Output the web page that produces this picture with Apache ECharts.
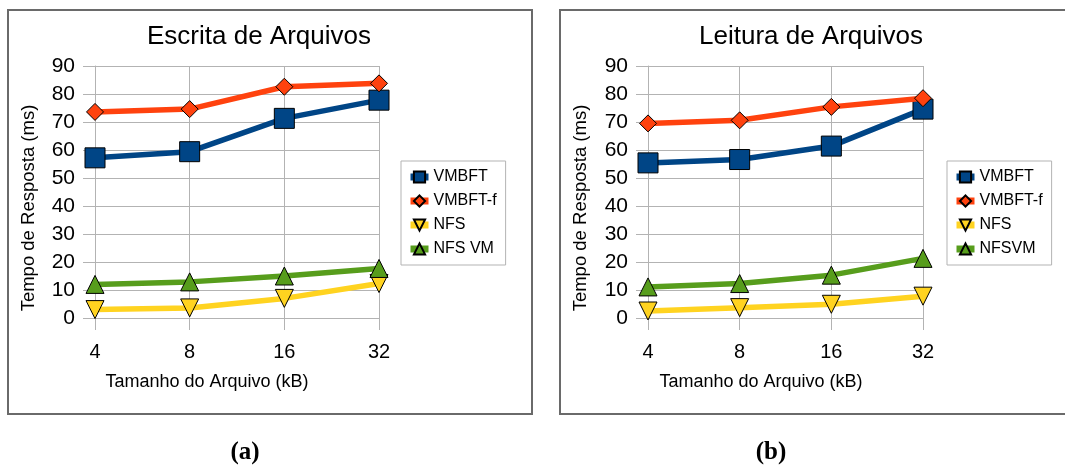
<!DOCTYPE html>
<html><head><meta charset="utf-8">
<script src="https://cdn.jsdelivr.net/npm/echarts@6/dist/echarts.min.js"></script>
<style>html,body{margin:0;padding:0;background:#fff}#c{width:1065px;height:468px}</style>
</head><body><div id="c"></div>
<script>
// ---- data ----
const categories = ['4', '8', '16', '32'];
const titles = ['Escrita de Arquivos', 'Leitura de Arquivos'];
const panelLabels = ['(a)', '(b)'];
const xName = 'Tamanho do Arquivo (kB)';
const yName = 'Tempo de Resposta (ms)';
const yMin = 0, yMax = 90, yStep = 10;

const escritaNames = ['VMBFT', 'VMBFT-f', 'NFS', 'NFS VM'];
const escritaVMBFT  = [57.2, 59.4, 71.3, 77.8];
const escritaVMBFTf = [73.6, 74.6, 82.6, 83.8];
const escritaNFS    = [3.0, 3.6, 7.0, 12.3];
const escritaNFSVM  = [12.0, 12.9, 15.0, 17.7];

const leituraNames = ['VMBFT', 'VMBFT-f', 'NFS', 'NFSVM'];
const leituraVMBFT  = [55.4, 56.6, 61.4, 74.6];
const leituraVMBFTf = [69.5, 70.6, 75.4, 78.5];
const leituraNFS    = [2.5, 3.7, 4.9, 7.8];
const leituraNFSVM  = [11.1, 12.3, 15.3, 21.3];

// ---- style ----
const FONT = '"Liberation Sans", Arial, sans-serif';
const GRID_C = '#b3b3b3';
const colors = ['#004586', '#ff420e', '#ffd320', '#579d1c'];
const symbols = ['rect', 'diamond', 'triangle', 'triangle'];
const symbolSizes = [20, 17, 18, 18];
const rotations = [0, 0, 180, 0];

function makeSeries(names, datas, idx) {
  return datas.map((d, i) => ({
    type: 'line', name: names[i], xAxisIndex: idx, yAxisIndex: idx,
    data: d, symbol: symbols[i], symbolSize: symbolSizes[i], symbolRotate: rotations[i],
    showAllSymbol: true, animation: false,
    lineStyle: { color: colors[i], width: 5.5 },
    itemStyle: { color: colors[i], borderColor: '#000', borderWidth: 1 },
    z: 2 + i
  }));
}

const grids = [
  { left: 95, top: 66, width: 284, height: 252 },
  { left: 648, top: 66, width: 275, height: 252 }
];
const xNamePad = [60, 49];
const yNameGap = [57, 58];

function xAxis(i) {
  return {
    type: 'category', gridIndex: i, data: categories, boundaryGap: false,
    axisLine: { show: true, lineStyle: { color: GRID_C, width: 1 } },
    axisTick: { show: true, length: 12, lineStyle: { color: GRID_C } },
    splitLine: { show: true, lineStyle: { color: GRID_C, width: 1 } },
    axisLabel: { fontSize: 20, margin: 24, color: '#000', fontFamily: FONT },
    name: xName, nameLocation: 'middle', nameGap: 55,
    nameTextStyle: { fontSize: 18, color: '#000', fontFamily: FONT, padding: [0, xNamePad[i], 0, 0] }
  };
}
function yAxis(i) {
  return {
    type: 'value', gridIndex: i, min: yMin, max: yMax, interval: yStep,
    axisLine: { show: true, lineStyle: { color: GRID_C, width: 1 } },
    axisTick: { show: true, length: 12, lineStyle: { color: GRID_C } },
    splitLine: { show: true, lineStyle: { color: GRID_C, width: 1 } },
    axisLabel: { fontSize: 21, margin: 20, color: '#000', fontFamily: FONT },
    name: yName, nameLocation: 'middle', nameGap: yNameGap[i],
    nameTextStyle: { fontSize: 18.5, color: '#000', fontFamily: FONT, padding: [0, 32, 0, 0] }
  };
}
function legend(names, left) {
  return {
    orient: 'vertical', left: left, top: 161, data: names,
    padding: [8, 9, 8, 6], itemWidth: 18, itemHeight: 14, itemGap: 8,
    borderColor: GRID_C, borderWidth: 1, backgroundColor: '#fff',
    lineStyle: { width: 7 },
    textStyle: { fontSize: 16, color: '#000', fontFamily: FONT },
    selectedMode: false
  };
}

const chart = echarts.init(document.getElementById('c'), null, { renderer: 'canvas' });
chart.setOption({
  backgroundColor: '#fff',
  animation: false,
  title: [
    { text: titles[0], left: 142, top: 19, textStyle: { fontSize: 26, fontWeight: 'normal', color: '#000', fontFamily: FONT } },
    { text: titles[1], left: 694, top: 19, textStyle: { fontSize: 26, fontWeight: 'normal', color: '#000', fontFamily: FONT } }
  ],
  grid: grids,
  xAxis: [xAxis(0), xAxis(1)],
  yAxis: [yAxis(0), yAxis(1)],
  legend: [legend(escritaNames, 401), legend(leituraNames, 947)],
  series: [
    ...makeSeries(escritaNames, [escritaVMBFT, escritaVMBFTf, escritaNFS, escritaNFSVM], 0),
    ...makeSeries(leituraNames, [leituraVMBFT, leituraVMBFTf, leituraNFS, leituraNFSVM], 1)
  ],
  graphic: [
    { type: 'rect', shape: { x: 8, y: 10, width: 524, height: 404 }, style: { fill: null, stroke: '#6a6a6a', lineWidth: 2 }, z: -1, silent: true },
    { type: 'rect', shape: { x: 560, y: 10, width: 510, height: 404 }, style: { fill: null, stroke: '#6a6a6a', lineWidth: 2 }, z: -1, silent: true },
    { type: 'text', x: 245, y: 453, style: { text: panelLabels[0], font: 'bold 25px "Liberation Serif", "Times New Roman", serif', fill: '#000', align: 'center', verticalAlign: 'middle' } },
    { type: 'text', x: 771, y: 453, style: { text: panelLabels[1], font: 'bold 25px "Liberation Serif", "Times New Roman", serif', fill: '#000', align: 'center', verticalAlign: 'middle' } }
  ]
});
</script>
</body></html>
